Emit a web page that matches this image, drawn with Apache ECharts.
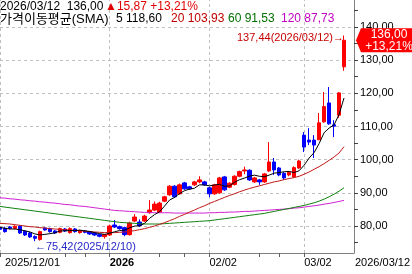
<!DOCTYPE html>
<html>
<head>
<meta charset="utf-8">
<script src="https://cdn.jsdelivr.net/npm/echarts@6/dist/echarts.min.js"></script>
<style>
html, body { margin: 0; padding: 0; background: #fff; }
#chart { width: 412px; height: 274px; }
</style>
</head>
<body>
<div id="chart"></div>
<script>
// 일봉 날짜
const dates = [
  '2025/12/01','2025/12/02','2025/12/03','2025/12/04','2025/12/05','2025/12/08','2025/12/09','2025/12/10','2025/12/11','2025/12/12',
  '2025/12/15','2025/12/16','2025/12/17','2025/12/18','2025/12/19','2025/12/22','2025/12/23','2025/12/24','2025/12/26','2025/12/29',
  '2025/12/30','2025/12/31','2026/01/02','2026/01/05','2026/01/06','2026/01/07','2026/01/08','2026/01/09','2026/01/12','2026/01/13',
  '2026/01/14','2026/01/15','2026/01/16','2026/01/20','2026/01/21','2026/01/22','2026/01/23','2026/01/26','2026/01/27','2026/01/28',
  '2026/01/29','2026/01/30','2026/02/02','2026/02/03','2026/02/04','2026/02/05','2026/02/06','2026/02/09','2026/02/10','2026/02/11',
  '2026/02/12','2026/02/13','2026/02/17','2026/02/18','2026/02/19','2026/02/20','2026/02/23','2026/02/24','2026/02/25','2026/02/26',
  '2026/02/27','2026/03/02','2026/03/03','2026/03/04','2026/03/05','2026/03/06','2026/03/09','2026/03/10','2026/03/11','2026/03/12'
];
// 시가 / 종가 / 저가 / 고가
const opens = [
  79.6,79.3,79.7,79.3,79.9,78.4,77.9,76.8,75.9,79.4, 79.2,78.5,78.1,79.1,78.0,79.1,78.0,78.5,78.2,77.9,
  77.4,76.8,77.3,80.3,79.8,79.5,77.4,81.5,81.2,81.5, 84.0,84.8,84.2,87.5,89.4,92.0,89.7,93.0,91.8,92.4,
  93.3,93.3,91.5,89.7,90.0,94.8,91.7,92.5,95.0,96.6, 96.8,93.3,93.9,93.3,96.6,99.3,97.5,95.9,95.4,94.8,
  97.5,107.4,105.9,105.9,106.0,111.4,117.1,110.5,113.4,128.0
];
const closes = [
  79.0,78.3,79.3,79.9,77.9,77.3,76.7,76.3,78.3,78.8, 78.3,77.9,79.2,78.5,79.2,78.3,78.6,78.1,77.6,77.3,
  76.9,77.4,80.0,79.7,79.2,77.4,80.9,82.7,80.1,83.0, 84.8,86.6,86.9,88.8,92.0,88.8,92.4,91.2,91.2,93.3,
  93.9,92.4,89.7,92.4,94.5,90.9,92.9,95.0,96.4,96.9, 93.9,94.5,93.3,95.7,99.3,96.9,95.4,94.5,96.2,97.6,
  99.6,103.8,105.3,104.4,111.1,116.0,110.8,110.1,120.13,136.0
];
const lows = [
  78.8,78.0,79.0,79.0,77.6,77.0,76.4,75.42,75.6,78.6, 78.0,77.6,77.8,78.2,77.7,78.0,77.7,77.8,77.3,77.0,
  76.6,76.2,77.0,79.4,78.9,76.9,77.1,81.2,79.7,81.2, 83.7,84.5,83.9,87.2,89.1,88.5,89.4,90.9,90.9,92.1,
  92.9,92.1,88.7,89.4,89.7,90.6,91.4,92.2,94.7,95.6, 93.6,93.0,92.4,93.0,96.3,95.4,95.0,93.9,95.0,94.5,
  97.2,102.3,104.4,100.5,105.9,111.1,110.5,106.8,112.6,126.8
];
const highs = [
  79.9,79.8,80.0,80.2,80.2,78.7,78.2,77.2,78.6,79.6, 79.5,78.8,79.5,79.4,79.6,79.4,78.9,78.8,78.4,78.1,
  77.6,77.6,80.4,81.8,80.1,79.8,81.3,83.6,82.0,83.4, 87.8,87.4,87.3,89.1,92.3,92.3,92.8,93.3,92.1,93.6,
  95.0,93.6,91.8,92.7,94.8,95.1,93.2,95.3,96.7,97.9, 97.1,94.8,94.2,96.0,105.3,100.5,97.8,96.2,96.6,98.0,
  100.0,108.3,109.5,107.4,114.1,120.4,121.9,111.9,120.4,137.44
];
// 이동평균선 (5, 20, 60, 120)
const ma5 = [
  79.6,79.3,79.1,79.1,78.88,78.54,78.22,77.62,77.30,77.48, 77.68,77.92,78.50,78.54,78.62,78.62,78.76,78.54,78.36,77.98,
  77.70,77.46,77.84,78.26,78.64,78.74,79.44,79.98,80.06,80.82, 82.30,83.44,84.28,86.02,87.82,88.62,89.78,90.64,91.12,91.38,
  92.40,92.40,92.10,92.34,92.58,91.98,92.08,93.14,93.94,94.42, 95.02,95.34,95.00,94.86,95.34,95.94,96.12,96.36,96.46,96.12,
  96.66,98.34,100.50,102.14,104.84,108.12,109.52,110.48,113.63,118.60
];
const ma20 = [
  80.8,80.7,80.6,80.4,80.2,80.0,79.8,79.7,79.5,79.4, 79.2,79.1,79.0,78.9,78.8,78.7,78.6,78.4,78.3,78.2,
  78.1,78.0,78.0,78.0,78.1,78.2,78.4,78.6,78.9,79.2, 79.6,80.0,80.5,81.0,81.6,82.2,82.9,83.5,84.2,84.8,
  85.5,86.1,86.8,87.4,88.0,88.6,89.2,89.7,90.3,90.8, 91.3,91.7,92.1,92.5,92.9,93.3,93.6,94.0,94.3,94.6,
  95.0,95.6,96.3,97.1,97.9,98.8,99.8,100.8,102.0,103.93
];
const ma60 = [
  85.9,85.7,85.5,85.3,85.1,84.9,84.7,84.5,84.3,84.1, 83.9,83.7,83.5,83.3,83.1,82.9,82.7,82.5,82.3,82.1,
  81.9,81.7,81.5,81.3,81.1,81.0,80.9,80.8,80.7,80.6, 80.6,80.6,80.6,80.7,80.8,80.9,81.0,81.1,81.2,81.3,
  81.4,81.5,81.6,81.8,82.0,82.2,82.4,82.6,82.8,83.0, 83.2,83.4,83.6,83.8,84.1,84.4,84.7,85.0,85.3,85.6,
  85.9,86.2,86.6,87.0,87.5,88.1,88.8,89.6,90.5,91.53
];
const ma120 = [
  88.5,88.4,88.2,88.1,87.9,87.8,87.6,87.5,87.3,87.2, 87.0,86.9,86.7,86.5,86.4,86.2,86.0,85.9,85.7,85.5,
  85.3,85.1,84.9,84.7,84.6,84.5,84.4,84.3,84.2,84.1, 84.1,84.0,84.0,84.0,84.0,83.9,83.9,83.9,83.9,83.9,
  83.9,83.9,84.0,84.0,84.1,84.1,84.2,84.2,84.3,84.4, 84.4,84.5,84.6,84.7,84.8,84.9,85.0,85.1,85.2,85.4,
  85.5,85.7,85.9,86.1,86.3,86.6,86.8,87.1,87.4,87.73
];
const xLabelDays = ['2025/12/01', '2026/01/02', '2026/02/02', '2026/03/02'];
const xMinorDays = ['2025/12/18', '2025/12/24', '2026/01/16', '2026/01/26', '2026/02/17', '2026/02/23'];
const yLabelValues = [80, 90, 100, 110, 120, 130, 140];
const yTickValues = [75, 80, 85, 90, 95, 100, 105, 110, 115, 120, 125, 130, 135, 140, 145];

const FONT = '"Liberation Sans", "Noto Sans CJK KR", sans-serif';
const fmt = v => v.toFixed(2).replace('.', ',');
const n = closes.length;
const last = closes[n - 1];
const prev = closes[n - 2];
const diff = last - prev;
const pct = diff / prev * 100;

// 최고/최저
let hiIdx = 0, loIdx = 0;
highs.forEach((v, i) => { if (v > highs[hiIdx]) hiIdx = i; });
lows.forEach((v, i) => { if (v < lows[loIdx]) loIdx = i; });

const candles = dates.map((d, i) => [opens[i], closes[i], lows[i], highs[i]]);
const axisDates = dates.concat(['', '']); // 오른쪽 여백

let chart = echarts.init(document.getElementById('chart'));

function headText(x, y, text, color, size) {
  return {
    type: 'text', x: x, y: y, z: 100,
    style: { text: text, fill: color, font: (size || 11) + 'px ' + FONT, verticalAlign: 'middle', align: 'left' }
  };
}

const gridLineStyle = { color: '#c0c0c0', type: [3, 3], width: 1 };

chart.setOption({
  animation: false,
  grid: { left: -5, right: 58, top: 0, bottom: 21 },
  xAxis: {
    type: 'category',
    data: axisDates,
    boundaryGap: false,
    axisLine: { lineStyle: { color: '#808080' } },
    axisTick: {
      length: 4,
      interval: (i, v) => xLabelDays.includes(v) || xMinorDays.includes(v),
      lineStyle: { color: '#606060' }
    },
    axisLabel: {
      interval: (i, v) => xLabelDays.includes(v),
      align: 'left',
      margin: 4,
      color: '#000',
      fontSize: 11,
      fontFamily: FONT,
      formatter: v => {
        if (v === xLabelDays[0]) return '{first|' + v + '}';
        if (v === xLabelDays[1]) return '{year|' + v.slice(0, 4) + '}';
        return v.slice(5);
      },
      rich: {
        first: { padding: [0, 0, 0, 5], fontSize: 11, fontFamily: FONT, color: '#000' },
        year: { fontWeight: 'bold', fontSize: 11, fontFamily: FONT, color: '#000' }
      }
    },
    splitLine: { show: false }
  },
  yAxis: {
    type: 'value',
    position: 'right',
    min: 71.86,
    max: 148.14,
    axisLine: { show: true, lineStyle: { color: '#808080' } },
    axisTick: { show: true, length: 4, customValues: yTickValues, lineStyle: { color: '#404040' } },
    axisLabel: {
      customValues: yLabelValues,
      margin: 6,
      color: '#000',
      fontSize: 11,
      fontFamily: FONT,
      formatter: v => fmt(v)
    },
    splitLine: { show: false }
  },
  series: [
    {
      type: 'candlestick',
      data: candles,
      barWidth: 4,
      z: 2,
      itemStyle: {
        color: '#ff0000', color0: '#0000ff',
        borderColor: '#ff0000', borderColor0: '#0000ff', borderWidth: 1
      },
      markLine: {
        silent: true,
        symbol: 'none',
        z: 1,
        label: { show: false },
        lineStyle: gridLineStyle,
        data: yLabelValues.map(v => ({ yAxis: v })).concat(xLabelDays.map(d => ({ xAxis: d })))
      },
      markPoint: {
        symbol: 'circle',
        symbolSize: 0,
        z: 10,
        data: [
          {
            coord: [dates[hiIdx], highs[hiIdx]],
            label: {
              show: true, position: 'left', distance: 0, offset: [0, 2],
              formatter: fmt(highs[hiIdx]) + '(' + dates[hiIdx] + ')→',
              color: '#c80000', fontSize: 11, fontFamily: FONT
            }
          },
          {
            coord: [dates[loIdx], lows[loIdx]],
            label: {
              show: true, position: 'right', distance: 0, offset: [0, 6],
              formatter: '←' + fmt(lows[loIdx]) + '(' + dates[loIdx] + ')',
              color: '#2828c8', fontSize: 11, fontFamily: FONT
            }
          }
        ]
      }
    },
    { type: 'line', data: ma120, symbol: 'none', z: 3, lineStyle: { color: '#d020d0', width: 1 } },
    { type: 'line', data: ma60, symbol: 'none', z: 3, lineStyle: { color: '#108010', width: 1 } },
    { type: 'line', data: ma20, symbol: 'none', z: 3, lineStyle: { color: '#c01818', width: 1 } },
    { type: 'line', data: ma5, symbol: 'none', z: 4, lineStyle: { color: '#000000', width: 1 } }
  ]
});

// 현재가 태그와 상단 정보
const tagY = chart.convertToPixel({ yAxisIndex: 0 }, last);
chart.setOption({
  graphic: {
    elements: [
      headText(0, 7, dates[n - 1] + '  ' + fmt(last), '#000', 12),
      headText(105, 7, '▲' + fmt(diff) + ' +' + fmt(pct) + '%', '#e00000', 12),
      headText(0, 19, '가격이동평균(SMA)', '#000', 13),
      headText(116, 19, '5 ' + fmt(ma5[n - 1]), '#000', 12),
      headText(171, 19, '20 ' + fmt(ma20[n - 1]), '#c00000', 12),
      headText(228, 19, '60 ' + fmt(ma60[n - 1]), '#007000', 12),
      headText(281, 19, '120 ' + fmt(ma120[n - 1]), '#c000c0', 12),
      headText(355, 263, dates[n - 1], '#000', 11),
      {
        type: 'polygon', z: 100,
        shape: { points: [[356, tagY], [361, tagY - 12], [412, tagY - 12], [412, tagY + 12], [361, tagY + 12]] },
        style: { fill: '#ff0000' }
      },
      {
        type: 'text', x: 389, y: tagY - 6, z: 101,
        style: { text: fmt(last), fill: '#fff', font: '12px ' + FONT, align: 'center', verticalAlign: 'middle' }
      },
      {
        type: 'text', x: 389, y: tagY + 6, z: 101,
        style: { text: '+' + fmt(pct) + '%', fill: '#fff', font: '12px ' + FONT, align: 'center', verticalAlign: 'middle' }
      }
    ]
  }
});
</script>
</body>
</html>
